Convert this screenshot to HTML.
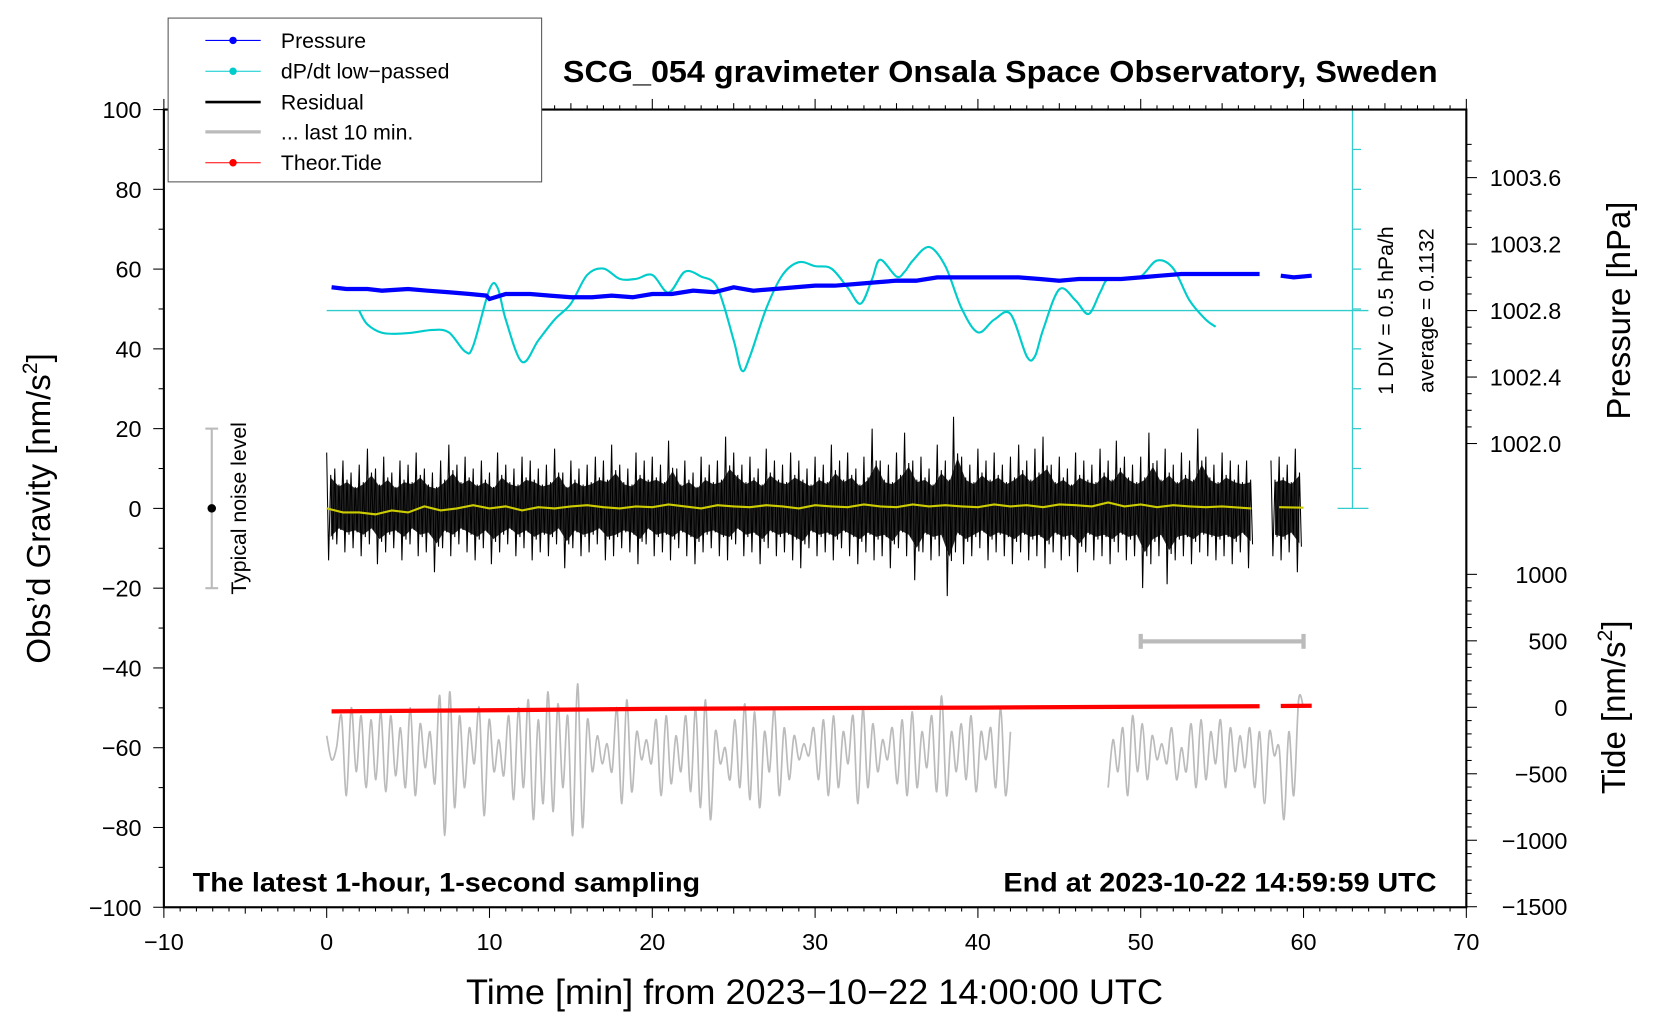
<!DOCTYPE html>
<html><head><meta charset="utf-8"><style>
html,body{margin:0;padding:0;background:#fff;}
svg{display:block;font-family:"Liberation Sans",sans-serif;}
</style></head><body>
<svg id="chart" width="1660" height="1020" viewBox="0 0 1560 959" preserveAspectRatio="none" xmlns="http://www.w3.org/2000/svg">
<rect x="0" y="0" width="1560" height="959" fill="#fff"/>
<g id="marks"></g>
<g id="axes"></g>
<text x="940" y="77" text-anchor="middle" font-size="29" font-weight="bold" textLength="822" lengthAdjust="spacingAndGlyphs">SCG_054 gravimeter Onsala Space Observatory, Sweden</text>
<text x="181" y="838" font-size="25" font-weight="bold" textLength="477" lengthAdjust="spacingAndGlyphs">The latest 1-hour, 1-second sampling</text>
<text x="943" y="838" font-size="25" font-weight="bold" textLength="407" lengthAdjust="spacingAndGlyphs">End at 2023-10-22 14:59:59 UTC</text>
<text x="438" y="944" font-size="33" textLength="655" lengthAdjust="spacingAndGlyphs">Time [min] from 2023−10−22 14:00:00 UTC</text>
<text transform="translate(47,478) rotate(-90)" text-anchor="middle" font-size="31">Obs’d Gravity [nm/s<tspan font-size="20" dy="-12">2</tspan><tspan dy="12">]</tspan></text>
<text transform="translate(1532,292) rotate(-90)" text-anchor="middle" font-size="31">Pressure [hPa]</text>
<text transform="translate(1527,665) rotate(-90)" text-anchor="middle" font-size="31">Tide [nm/s<tspan font-size="20" dy="-12">2</tspan><tspan dy="12">]</tspan></text>
<text transform="translate(1309,292) rotate(-90)" text-anchor="middle" font-size="20">1 DIV = 0.5 hPa/h</text>
<text transform="translate(1347,292) rotate(-90)" text-anchor="middle" font-size="20">average = 0.1132</text>
<g>
<line x1="199" y1="403" x2="199" y2="553" stroke="#bbb" stroke-width="2"/>
<line x1="193" y1="403" x2="205" y2="403" stroke="#bbb" stroke-width="2"/>
<line x1="193" y1="553" x2="205" y2="553" stroke="#bbb" stroke-width="2"/>
<circle cx="199" cy="478" r="4" fill="#000"/>
<text transform="translate(231,478) rotate(-90)" text-anchor="middle" font-size="20">Typical noise level</text>
</g>
<g stroke="#bbb" stroke-width="4">
<line x1="1072" y1="603" x2="1225" y2="603"/><line x1="1072" y1="596" x2="1072" y2="610"/><line x1="1225" y1="596" x2="1225" y2="610"/>
</g>
<g>
<rect x="158" y="17" width="351" height="154" fill="#fff" stroke="#555" stroke-width="1"/>
<g><line x1="193" y1="38" x2="245" y2="38" stroke="#00f" stroke-width="1"/><circle cx="219" cy="38" r="3.5" fill="#00f"/><text x="264" y="45" font-size="20">Pressure</text></g>
<g><line x1="193" y1="67" x2="245" y2="67" stroke="#0cc" stroke-width="1"/><circle cx="219" cy="67" r="3.5" fill="#0cc"/><text x="264" y="74" font-size="20">dP/dt low−passed</text></g>
<g><line x1="193" y1="96" x2="245" y2="96" stroke="#000" stroke-width="2.5"/><text x="264" y="103" font-size="20">Residual</text></g>
<g><line x1="193" y1="124" x2="245" y2="124" stroke="#bbb" stroke-width="3"/><text x="264" y="131" font-size="20">... last 10 min.</text></g>
<g><line x1="193" y1="153" x2="245" y2="153" stroke="#f00" stroke-width="1"/><circle cx="219" cy="153" r="3.5" fill="#f00"/><text x="264" y="160" font-size="20">Theor.Tide</text></g>
</g>
</svg>
<script>
// ---- data ----
const dpT=[2,2.5,3.5,5,6.5,7.5,8.5,9,10,10.5,11,12,13,14,15,16,17,18,19,20,21,22,23,24,25,25.5,26,27,28,29,30,31,32,32.8,33.5,34,35,35.5,36,37,38,39,40,41,42,43,43.5,44,45,46,46.8,47.5,48,49,50,51,52,53,54,54.6];
const dpV=[0.11,-0.06,-0.17,-0.17,-0.13,-0.16,-0.40,-0.33,0.38,0.40,0.00,-0.53,-0.26,0.00,0.20,0.56,0.64,0.51,0.51,0.56,0.34,0.60,0.54,0.40,-0.26,-0.64,-0.46,0.14,0.56,0.72,0.67,0.64,0.40,0.20,0.51,0.75,0.54,0.60,0.74,0.91,0.67,0.14,-0.16,0.00,0.07,-0.46,-0.46,-0.13,0.38,0.24,0.07,0.34,0.51,0.51,0.54,0.74,0.64,0.24,0.00,-0.09];
const dpAvg=0.1132;
const pT=[0.3,1.2,2.5,3.4,5,6.2,7.5,8.8,9.8,10,11,12.5,13.7,15,16.3,17.5,18.8,20,21.2,22.5,23.8,25,26.2,27.5,28.8,30,31.2,32.5,33.8,35,36.2,37.5,38.8,40,41.2,42.5,43.8,45,46.2,47.5,48.8,50,51.2,52.5,53.8,55,56.2,57.3,null,58.6,59.4,60.5];
const pV=[1002.94,1002.93,1002.93,1002.92,1002.93,1002.92,1002.91,1002.90,1002.89,1002.87,1002.90,1002.90,1002.89,1002.88,1002.88,1002.89,1002.88,1002.90,1002.90,1002.92,1002.91,1002.94,1002.92,1002.93,1002.94,1002.95,1002.95,1002.96,1002.97,1002.98,1002.98,1003.00,1003.00,1003.00,1003.00,1003.00,1002.99,1002.98,1002.99,1002.99,1002.99,1003.00,1003.01,1003.02,1003.02,1003.02,1003.02,1003.02,null,1003.01,1003.00,1003.01];
const tideT=[0.3,10,20,30,40,50,57.3,null,58.6,60.5];
const tideV=[-30,-22,-12,-6,-2,4,8,null,10,12];
const resHi=[14,10,12,9,11,15,10,13,9,12,11,14,10,9,12,16,11,13,10,12,9,14,11,10,13,12,10,11,15,9,12,10,11,13,12,16,11,10,14,12,13,11,17,10,12,9,13,11,12,18,14,11,13,10,15,12,11,14,12,10,13,11,16,12,14,10,13,20,12,11,14,19,12,13,10,16,12,23,13,11,15,12,14,11,13,16,12,15,18,11,13,10,14,12,11,15,12,17,13,11,13,19,12,15,11,14,12,20,13,11,14,12,11,12,null,null,12,13,11,15];
const resLo=[-13,-9,-11,-10,-12,-9,-14,-11,-10,-13,-9,-12,-11,-16,-10,-12,-9,-11,-13,-10,-14,-11,-9,-12,-10,-13,-11,-12,-9,-15,-10,-12,-11,-9,-13,-12,-10,-11,-14,-9,-12,-11,-13,-10,-12,-14,-11,-10,-12,-13,-9,-12,-11,-14,-10,-12,-11,-13,-15,-10,-12,-11,-13,-10,-12,-14,-11,-13,-12,-15,-10,-12,-18,-11,-13,-12,-22,-11,-14,-12,-10,-13,-11,-12,-14,-11,-13,-12,-15,-11,-13,-12,-16,-11,-13,-12,-14,-11,-13,-12,-20,-14,-12,-19,-13,-12,-14,-11,-12,-13,-12,-14,-11,-15,null,null,-12,-13,-11,-16];
const meanT=[0,1,2,3,4,5,6,7,8,9,10,11,12,13,14,15,16,17,18,19,20,21,22,23,24,25,26,27,28,29,30,31,32,33,34,35,36,37,38,39,40,41,42,43,44,45,46,47,48,49,50,51,52,53,54,55,56.8,null,58.5,60];
const meanV=[0,-1,-1,-1.5,-0.5,-1,0.5,-0.5,0,0.8,0,0.5,-0.5,0.3,0,0.5,0.8,0.3,0,0.5,0.3,1,0.5,0,0.8,0.5,0.3,0.8,0.5,0,0.8,0.5,0.3,1,0.5,0.3,1,0.5,0.8,0.5,0.3,1,0.5,0.8,0.3,1,0.8,0.5,1.5,0.5,1,0.3,0.8,0.5,0.3,0.5,0,null,0.3,0.2];
const grey1=[-57,-63,-60,-52,-72,-50,-66,-52,-70,-53,-68,-51,-71,-52,-67,-55,-70,-50,-72,-54,-65,-56,-69,-47,-82,-46,-75,-52,-70,-55,-64,-50,-77,-53,-66,-58,-67,-52,-73,-50,-70,-48,-78,-53,-74,-46,-76,-49,-70,-52,-82,-44,-80,-53,-66,-57,-64,-59,-66,-50,-74,-48,-71,-56,-63,-58,-64,-53,-72,-52,-69,-57,-66,-52,-71,-50,-75,-48,-78,-56,-64,-60,-68,-53,-70,-49,-73,-51,-75,-56,-66,-50,-72,-55,-68,-57,-63,-59,-62,-55,-68,-53,-72,-52,-70,-56,-64,-52,-74,-50,-70,-54,-66,-58,-63,-55,-69,-53,-72,-51,-70,-56,-65,-52,-71,-47,-72,-56,-66,-54,-68,-52,-71,-56,-63,-55,-70,-50,-72,-56];
const grey1Start=0, grey1End=42;
const grey2=[-70,-58,-66,-55,-72,-52,-66,-54,-68,-57,-63,-59,-64,-55,-68,-60,-66,-54,-70,-53,-68,-56,-64,-53,-70,-55,-66,-57,-65,-55,-70,-56,-74,-56,-62,-60,-78,-56,-72,-48,-50];
const grey2Start=48, grey2End=60;
const xTicks=[-10,0,10,20,30,40,50,60,70];
const yTicks=[100,80,60,40,20,0,-20,-40,-60,-80,-100];
const pTicks=[1002.0,1002.4,1002.8,1003.2,1003.6];
const tideTicks=[1000,500,0,-500,-1000,-1500];

// ---- scales ----
const L=154,R=1378,T=103,B=853;
const X=t=>307+t*15.3;
const Y=v=>478-v*3.75;
const YP=p=>417-(p-1002.0)*156.25;
const YT=v=>665-v*0.125;
const YD=v=>292-(v-dpAvg)*75;
const NS='http://www.w3.org/2000/svg';
const marks=document.getElementById('marks'), axes=document.getElementById('axes');
function mk(tag,attrs,parent){const e=document.createElementNS(NS,tag);for(const k in attrs)e.setAttribute(k,attrs[k]);parent.appendChild(e);return e;}
function linePath(ts,vs,fy){let d='',pen=false;for(let i=0;i<ts.length;i++){if(ts[i]===null||vs[i]===null){pen=false;continue;}d+=(pen?'L':'M')+X(ts[i]).toFixed(1)+' '+fy(vs[i]).toFixed(1);pen=true;}return d;}
function smoothPath(ts,vs,fy){const p=ts.map((t,i)=>[X(t),fy(vs[i])]);let d='M'+p[0][0]+' '+p[0][1];for(let i=0;i<p.length-1;i++){const p0=p[Math.max(0,i-1)],p1=p[i],p2=p[i+1],p3=p[Math.min(p.length-1,i+2)];const c1=[p1[0]+(p2[0]-p0[0])/6,p1[1]+(p2[1]-p0[1])/6],c2=[p2[0]-(p3[0]-p1[0])/6,p2[1]-(p3[1]-p1[1])/6];d+=`C${c1[0].toFixed(1)} ${c1[1].toFixed(1)} ${c2[0].toFixed(1)} ${c2[1].toFixed(1)} ${p2[0].toFixed(1)} ${p2[1].toFixed(1)}`;}return d;}

mk('line',{x1:X(0),y1:YD(dpAvg),x2:1286,y2:YD(dpAvg),stroke:'#3cc','stroke-width':1.2,},marks);
const sc=mk('g',{stroke:'#3cc','stroke-width':1.2},marks);


mk('line',{x1:1271,y1:103,x2:1271,y2:478},sc);
mk('line',{x1:1257,y1:103,x2:1286,y2:103},sc);
mk('line',{x1:1257,y1:478,x2:1286,y2:478},sc);
for(let k=1;k<10;k++)mk('line',{x1:1271,y1:103+k*37.5,x2:1279,y2:103+k*37.5},sc);

[[grey1,grey1Start,grey1End],[grey2,grey2Start,grey2End]].forEach(([arr,s,e])=>{const ts=arr.map((_,i)=>s+(e-s)*i/(arr.length-1));const p=mk('path',{d:smoothPath(ts,arr,Y),fill:'none',stroke:'#bbb','stroke-width':1.6},marks);});

let rd='',pen=false;
for(let i=0;i<resHi.length;i++){if(resHi[i]===null){pen=false;continue;}const t=i*0.5;rd+=(pen?'L':'M')+X(t).toFixed(1)+' '+Y(resHi[i]).toFixed(1)+'L'+X(t+0.12).toFixed(1)+' '+Y(resLo[i]).toFixed(1)+'L'+X(t+0.25).toFixed(1)+' '+Y(resHi[i]*0.6).toFixed(1)+'L'+X(t+0.37).toFixed(1)+' '+Y(resLo[i]*0.6).toFixed(1);pen=true;}
let band='';
[[0,113],[116,resHi.length-1]].forEach(([a,b])=>{let up='',dn='';for(let i=a;i<=b;i++){up+=(i===a?'M':'L')+X(i*0.5+0.25).toFixed(1)+' '+Y(resHi[i]*0.55).toFixed(1);}for(let i=b;i>=a;i--){dn+='L'+X(i*0.5+0.25).toFixed(1)+' '+Y(resLo[i]*0.55).toFixed(1);}band+=up+dn+'Z';});
const rb=mk('path',{d:band,fill:'#000','fill-opacity':0.85},marks);


const rp=mk('path',{d:rd,fill:'none',stroke:'#000','stroke-width':1},marks);


const mp=mk('path',{d:linePath(meanT,meanV,Y),fill:'none',stroke:'#cc0','stroke-width':2},marks);



const dp=mk('path',{d:smoothPath(dpT,dpV,YD),fill:'none',stroke:'#0cc','stroke-width':2},marks);


const pp=mk('path',{d:linePath(pT,pV,YP),fill:'none',stroke:'#00f','stroke-width':4},marks);


const tp=mk('path',{d:linePath(tideT,tideV,YT),fill:'none',stroke:'#f00','stroke-width':4},marks);



const fr=mk('rect',{x:L,y:T,width:R-L,height:B-T,fill:'none',stroke:'#000','stroke-width':2},axes);


const tk=mk('g',{stroke:'#000','stroke-width':1},axes);
for(let t=-10;t<=70;t++){const len=t%10===0?10:(t%5===0?6:4);mk('line',{x1:X(t),y1:B,x2:X(t),y2:B+len},tk);mk('line',{x1:X(t),y1:T,x2:X(t),y2:T-len},tk);}
for(let v=-100;v<=100;v+=10){const len=v%20===0?10:5;mk('line',{x1:L,y1:Y(v),x2:L-len,y2:Y(v)},tk);}
for(let p=1002.0;p<=1003.85;p+=0.1){const major=Math.abs(Math.round(p*10)%4)===0;mk('line',{x1:R,y1:YP(p),x2:R+(major?10:5),y2:YP(p)},tk);}
for(let v=-1500;v<=1000;v+=100){mk('line',{x1:R,y1:YT(v),x2:R+(v%500===0?10:5),y2:YT(v)},tk);}
xTicks.forEach(t=>{const e=mk('text',{x:X(t),y:893,'text-anchor':'middle','font-size':22},axes);e.textContent=t<0?'−'+(-t):t;});
yTicks.forEach(v=>{const e=mk('text',{x:133,y:Y(v)+8,'text-anchor':'end','font-size':22},axes);e.textContent=v<0?'−'+(-v):v;});
pTicks.forEach(p=>{const e=mk('text',{x:1400,y:YP(p)+8,'font-size':22},axes);e.textContent=p.toFixed(1);});
tideTicks.forEach(v=>{const e=mk('text',{x:1473,y:YT(v)+8,'text-anchor':'end','font-size':22},axes);e.textContent=v<0?'−'+(-v):v;});
</script>
</body></html>
